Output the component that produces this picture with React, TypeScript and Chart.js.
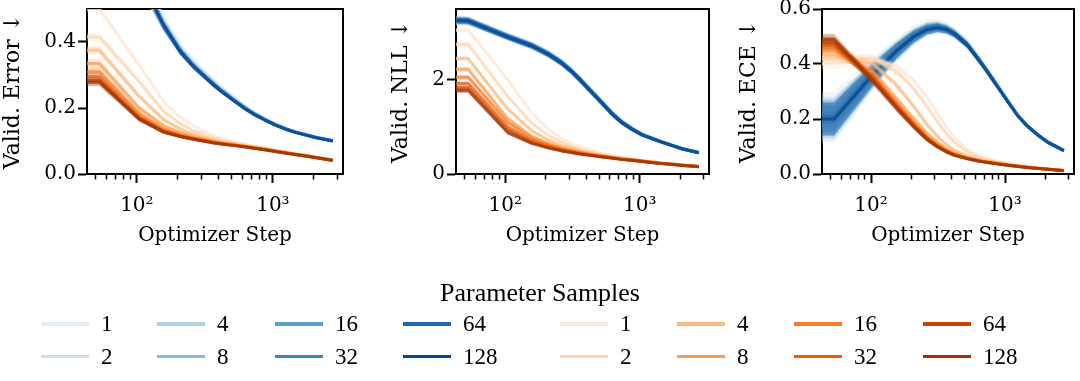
import React, { useEffect, useRef } from 'react';
import { Chart, registerables } from 'chart.js';

Chart.register(...registerables);

// ---------------- data ----------------
const STEPS = [43, 53, 104, 157, 209, 261, 313, 365, 418, 522, 626, 731, 887, 1044, 1253, 1462, 1775, 2088, 2750];
const SAMPLE_LABELS = ['1', '2', '4', '8', '16', '32', '64', '128'];
const X_MIN = 43;
const X_MAX = 3275;
const X_MAJOR_TICKS = [100, 1000];
const X_MAJOR_LABELS = ['10²', '10³'];
const X_MINOR_TICKS = [50, 60, 70, 80, 90, 200, 300, 400, 500, 600, 700, 800, 900, 2000, 3000];

// Validation error
const ERR_BLUE_1 = [0.93, 0.93, 0.63, 0.475, 0.392, 0.344, 0.311, 0.285, 0.263, 0.231, 0.206, 0.187, 0.168, 0.153, 0.139, 0.129, 0.12, 0.112, 0.103];
const ERR_BLUE_2 = [0.87, 0.87, 0.575, 0.44, 0.372, 0.333, 0.305, 0.28, 0.259, 0.228, 0.204, 0.185, 0.166, 0.151, 0.138, 0.128, 0.119, 0.112, 0.102];
const ERR_BLUE_4 = [0.92, 0.92, 0.62, 0.465, 0.382, 0.335, 0.304, 0.278, 0.257, 0.226, 0.202, 0.184, 0.165, 0.151, 0.137, 0.128, 0.119, 0.111, 0.102];
const ERR_BLUE_8 = [0.88, 0.88, 0.585, 0.442, 0.368, 0.327, 0.299, 0.275, 0.255, 0.225, 0.201, 0.183, 0.164, 0.15, 0.137, 0.127, 0.118, 0.111, 0.101];
const ERR_BLUE_16 = [0.91, 0.91, 0.61, 0.458, 0.376, 0.33, 0.299, 0.274, 0.253, 0.223, 0.199, 0.182, 0.163, 0.149, 0.136, 0.127, 0.118, 0.111, 0.101];
const ERR_BLUE_32 = [0.89, 0.89, 0.595, 0.448, 0.37, 0.326, 0.297, 0.272, 0.252, 0.222, 0.199, 0.181, 0.163, 0.149, 0.136, 0.127, 0.118, 0.11, 0.101];
const ERR_BLUE_64 = [0.9, 0.9, 0.605, 0.452, 0.372, 0.326, 0.296, 0.271, 0.251, 0.221, 0.198, 0.18, 0.162, 0.148, 0.135, 0.126, 0.117, 0.11, 0.1];
const ERR_BLUE_128 = [0.9, 0.9, 0.6, 0.45, 0.37, 0.325, 0.295, 0.27, 0.25, 0.22, 0.197, 0.18, 0.162, 0.148, 0.135, 0.126, 0.117, 0.11, 0.1];
const ERR_BLUE_BAND = [0.02, 0.02, 0.014, 0.011, 0.01, 0.009, 0.008, 0.008, 0.007, 0.006, 0.006, 0.006, 0.005, 0.005, 0.005, 0.004, 0.004, 0.004, 0.004];

const ERR_ORANGE_1 = [0.5, 0.5, 0.33, 0.22, 0.172, 0.145, 0.128, 0.117, 0.108, 0.098, 0.091, 0.085, 0.078, 0.072, 0.067, 0.062, 0.056, 0.051, 0.044];
const ERR_ORANGE_2 = [0.415, 0.415, 0.28, 0.19, 0.152, 0.131, 0.119, 0.11, 0.103, 0.094, 0.088, 0.083, 0.077, 0.071, 0.066, 0.061, 0.056, 0.051, 0.043];
const ERR_ORANGE_4 = [0.375, 0.375, 0.235, 0.165, 0.136, 0.12, 0.111, 0.104, 0.098, 0.091, 0.086, 0.081, 0.076, 0.07, 0.065, 0.061, 0.055, 0.05, 0.043];
const ERR_ORANGE_8 = [0.335, 0.335, 0.2, 0.146, 0.125, 0.113, 0.106, 0.1, 0.095, 0.089, 0.084, 0.08, 0.075, 0.07, 0.065, 0.06, 0.055, 0.05, 0.042];
const ERR_ORANGE_16 = [0.31, 0.31, 0.183, 0.136, 0.119, 0.109, 0.103, 0.097, 0.093, 0.088, 0.083, 0.079, 0.074, 0.069, 0.064, 0.06, 0.055, 0.05, 0.042];
const ERR_ORANGE_32 = [0.295, 0.295, 0.173, 0.131, 0.116, 0.107, 0.101, 0.096, 0.092, 0.087, 0.083, 0.079, 0.074, 0.069, 0.064, 0.059, 0.054, 0.049, 0.042];
const ERR_ORANGE_64 = [0.283, 0.283, 0.168, 0.128, 0.114, 0.106, 0.1, 0.095, 0.091, 0.086, 0.082, 0.078, 0.073, 0.068, 0.063, 0.059, 0.054, 0.049, 0.041];
const ERR_ORANGE_128 = [0.278, 0.278, 0.166, 0.127, 0.113, 0.105, 0.099, 0.094, 0.091, 0.086, 0.082, 0.078, 0.073, 0.068, 0.063, 0.059, 0.054, 0.049, 0.041];
const ERR_ORANGE_BAND = [0.012, 0.012, 0.008, 0.006, 0.005, 0.005, 0.004, 0.004, 0.004, 0.003, 0.003, 0.003, 0.003, 0.003, 0.003, 0.003, 0.003, 0.003, 0.003];

// Validation NLL
const NLL_BLUE_1 = [3.22, 3.21, 2.95, 2.77, 2.59, 2.41, 2.22, 2.03, 1.85, 1.56, 1.31, 1.14, 0.97, 0.85, 0.765, 0.69, 0.61, 0.545, 0.46];
const NLL_BLUE_2 = [3.29, 3.28, 2.94, 2.75, 2.57, 2.39, 2.2, 2.01, 1.83, 1.54, 1.3, 1.13, 0.96, 0.845, 0.76, 0.685, 0.605, 0.54, 0.46];
const NLL_BLUE_4 = [3.23, 3.22, 2.89, 2.7, 2.52, 2.34, 2.15, 1.96, 1.78, 1.49, 1.25, 1.09, 0.93, 0.82, 0.74, 0.67, 0.59, 0.525, 0.45];
const NLL_BLUE_8 = [3.28, 3.27, 2.93, 2.74, 2.56, 2.38, 2.19, 2.0, 1.82, 1.53, 1.29, 1.12, 0.955, 0.84, 0.755, 0.68, 0.6, 0.535, 0.455];
const NLL_BLUE_16 = [3.24, 3.23, 2.9, 2.71, 2.53, 2.35, 2.16, 1.97, 1.79, 1.5, 1.26, 1.09, 0.935, 0.825, 0.74, 0.67, 0.59, 0.525, 0.45];
const NLL_BLUE_32 = [3.27, 3.26, 2.92, 2.73, 2.55, 2.37, 2.18, 1.99, 1.81, 1.52, 1.28, 1.11, 0.95, 0.835, 0.75, 0.68, 0.6, 0.535, 0.455];
const NLL_BLUE_64 = [3.25, 3.24, 2.91, 2.72, 2.54, 2.36, 2.17, 1.98, 1.8, 1.51, 1.27, 1.1, 0.94, 0.83, 0.745, 0.675, 0.595, 0.53, 0.45];
const NLL_BLUE_128 = [3.26, 3.25, 2.91, 2.72, 2.54, 2.36, 2.17, 1.98, 1.8, 1.51, 1.27, 1.1, 0.94, 0.83, 0.745, 0.675, 0.595, 0.53, 0.45];
const NLL_BLUE_BAND = [0.07, 0.07, 0.065, 0.065, 0.065, 0.065, 0.065, 0.065, 0.06, 0.06, 0.055, 0.05, 0.045, 0.04, 0.035, 0.035, 0.03, 0.03, 0.03];

const NLL_ORANGE_1 = [3.05, 3.05, 2.0, 1.3, 0.95, 0.76, 0.65, 0.575, 0.52, 0.445, 0.395, 0.36, 0.32, 0.29, 0.265, 0.24, 0.215, 0.195, 0.165];
const NLL_ORANGE_2 = [2.75, 2.75, 1.65, 1.08, 0.82, 0.68, 0.59, 0.53, 0.485, 0.42, 0.375, 0.345, 0.31, 0.285, 0.26, 0.235, 0.21, 0.19, 0.165];
const NLL_ORANGE_4 = [2.45, 2.45, 1.38, 0.92, 0.72, 0.61, 0.545, 0.49, 0.455, 0.4, 0.36, 0.335, 0.305, 0.28, 0.255, 0.23, 0.21, 0.19, 0.16];
const NLL_ORANGE_8 = [2.22, 2.22, 1.18, 0.8, 0.65, 0.56, 0.51, 0.465, 0.43, 0.385, 0.35, 0.325, 0.3, 0.275, 0.25, 0.23, 0.205, 0.185, 0.16];
const NLL_ORANGE_16 = [2.05, 2.05, 1.1, 0.76, 0.62, 0.54, 0.49, 0.45, 0.42, 0.375, 0.345, 0.32, 0.295, 0.27, 0.245, 0.225, 0.205, 0.185, 0.16];
const NLL_ORANGE_32 = [1.92, 1.92, 1.0, 0.71, 0.59, 0.52, 0.47, 0.435, 0.41, 0.37, 0.34, 0.315, 0.29, 0.27, 0.245, 0.225, 0.2, 0.185, 0.16];
const NLL_ORANGE_64 = [1.83, 1.83, 0.93, 0.67, 0.565, 0.5, 0.46, 0.425, 0.405, 0.365, 0.34, 0.315, 0.29, 0.265, 0.24, 0.22, 0.2, 0.18, 0.155];
const NLL_ORANGE_128 = [1.77, 1.77, 0.88, 0.65, 0.55, 0.49, 0.45, 0.42, 0.4, 0.36, 0.335, 0.31, 0.285, 0.265, 0.24, 0.22, 0.2, 0.18, 0.155];
const NLL_ORANGE_BAND = [0.05, 0.05, 0.04, 0.03, 0.025, 0.022, 0.02, 0.02, 0.02, 0.02, 0.02, 0.02, 0.02, 0.02, 0.02, 0.02, 0.02, 0.02, 0.02];

// Validation ECE
const ECE_BLUE_1 = [0.17, 0.17, 0.34, 0.435, 0.49, 0.52, 0.53, 0.524, 0.51, 0.47, 0.42, 0.375, 0.316, 0.266, 0.212, 0.177, 0.142, 0.117, 0.087];
const ECE_BLUE_2 = [0.24, 0.24, 0.385, 0.47, 0.52, 0.545, 0.548, 0.54, 0.522, 0.48, 0.43, 0.383, 0.323, 0.27, 0.215, 0.179, 0.143, 0.118, 0.087];
const ECE_BLUE_4 = [0.18, 0.18, 0.35, 0.44, 0.49, 0.518, 0.527, 0.52, 0.506, 0.466, 0.417, 0.372, 0.313, 0.263, 0.209, 0.174, 0.14, 0.115, 0.085];
const ECE_BLUE_8 = [0.22, 0.22, 0.375, 0.46, 0.51, 0.535, 0.54, 0.532, 0.516, 0.475, 0.425, 0.38, 0.32, 0.268, 0.213, 0.177, 0.142, 0.117, 0.086];
const ECE_BLUE_16 = [0.19, 0.19, 0.355, 0.445, 0.495, 0.522, 0.53, 0.523, 0.508, 0.468, 0.418, 0.373, 0.314, 0.264, 0.21, 0.175, 0.14, 0.115, 0.085];
const ECE_BLUE_32 = [0.21, 0.21, 0.37, 0.455, 0.505, 0.53, 0.536, 0.528, 0.513, 0.472, 0.422, 0.377, 0.317, 0.266, 0.211, 0.176, 0.141, 0.116, 0.086];
const ECE_BLUE_64 = [0.2, 0.2, 0.36, 0.45, 0.5, 0.525, 0.532, 0.525, 0.51, 0.47, 0.42, 0.375, 0.315, 0.265, 0.21, 0.175, 0.14, 0.115, 0.085];
const ECE_BLUE_128 = [0.2, 0.2, 0.365, 0.45, 0.5, 0.525, 0.532, 0.525, 0.51, 0.47, 0.42, 0.375, 0.315, 0.265, 0.21, 0.175, 0.14, 0.115, 0.085];
const ECE_BLUE_BAND = [0.06, 0.06, 0.04, 0.028, 0.022, 0.018, 0.016, 0.014, 0.013, 0.012, 0.011, 0.01, 0.009, 0.008, 0.007, 0.007, 0.006, 0.006, 0.005];

const ECE_ORANGE_1 = [0.4, 0.4, 0.42, 0.39, 0.34, 0.28, 0.22, 0.17, 0.132, 0.09, 0.069, 0.057, 0.046, 0.04, 0.033, 0.028, 0.023, 0.019, 0.015];
const ECE_ORANGE_2 = [0.42, 0.42, 0.42, 0.37, 0.31, 0.245, 0.19, 0.146, 0.115, 0.08, 0.063, 0.053, 0.044, 0.038, 0.031, 0.027, 0.022, 0.019, 0.014];
const ECE_ORANGE_4 = [0.43, 0.43, 0.4, 0.32, 0.245, 0.18, 0.138, 0.107, 0.087, 0.066, 0.055, 0.048, 0.041, 0.035, 0.029, 0.026, 0.021, 0.018, 0.014];
const ECE_ORANGE_8 = [0.45, 0.45, 0.37, 0.27, 0.2, 0.148, 0.115, 0.092, 0.077, 0.06, 0.051, 0.045, 0.038, 0.033, 0.028, 0.025, 0.021, 0.017, 0.013];
const ECE_ORANGE_16 = [0.46, 0.46, 0.355, 0.255, 0.185, 0.136, 0.106, 0.086, 0.072, 0.058, 0.049, 0.044, 0.037, 0.033, 0.028, 0.024, 0.02, 0.017, 0.013];
const ECE_ORANGE_32 = [0.47, 0.47, 0.348, 0.248, 0.18, 0.132, 0.103, 0.084, 0.071, 0.057, 0.048, 0.043, 0.037, 0.033, 0.028, 0.024, 0.02, 0.017, 0.012];
const ECE_ORANGE_64 = [0.48, 0.48, 0.342, 0.242, 0.175, 0.128, 0.1, 0.082, 0.069, 0.056, 0.048, 0.043, 0.036, 0.032, 0.027, 0.024, 0.02, 0.017, 0.012];
const ECE_ORANGE_128 = [0.49, 0.49, 0.335, 0.235, 0.17, 0.125, 0.098, 0.08, 0.068, 0.055, 0.047, 0.042, 0.036, 0.032, 0.027, 0.024, 0.02, 0.017, 0.012];
const ECE_ORANGE_BAND = [0.02, 0.02, 0.015, 0.012, 0.01, 0.008, 0.007, 0.006, 0.005, 0.004, 0.004, 0.003, 0.003, 0.003, 0.003, 0.002, 0.002, 0.002, 0.002];

// ---------------- styles ----------------
const BLUE_COLORS = ['#e3eef9', '#cde0f1', '#aed1e6', '#84bcdb', '#58a1cf', '#3685bf', '#1a68ae', '#084a92'];
const ORANGE_COLORS = ['#fee8d3', '#fdd6ae', '#fdbb80', '#fd9c51', '#f87c2a', '#e85d0c', '#c94302', '#9e3303'];
const TICK_FONT = { family: '"DejaVu Serif", serif', size: 20 };
const X_TITLE_FONT = { family: '"DejaVu Serif", serif', size: 20 };
const Y_TITLE_FONT = { family: '"DejaVu Serif", serif', size: 22 };
const LEGEND_FONT = '"Liberation Serif", "Times New Roman", serif';
const CANVAS_H = 250;
const CHART_TOP = 9;
const CHART_BOTTOM = 174;

type PanelCfg = {
  left: number;
  width: number;
  yAxisWidth: number;
  padRight: number;
  yTitle: string;
  yMax: number;
  yTicks: number[];
  decimals: number;
  blue: number[][];
  orange: number[][];
  blueBand: number[];
  orangeBand: number[];
};

const PANELS: PanelCfg[] = [
  {
    left: 0, width: 360, yAxisWidth: 87, padRight: 17,
    yTitle: 'Valid. Error ↓', yMax: 0.5, yTicks: [0, 0.2, 0.4], decimals: 1,
    blue: [ERR_BLUE_1, ERR_BLUE_2, ERR_BLUE_4, ERR_BLUE_8, ERR_BLUE_16, ERR_BLUE_32, ERR_BLUE_64, ERR_BLUE_128],
    orange: [ERR_ORANGE_1, ERR_ORANGE_2, ERR_ORANGE_4, ERR_ORANGE_8, ERR_ORANGE_16, ERR_ORANGE_32, ERR_ORANGE_64, ERR_ORANGE_128],
    blueBand: ERR_BLUE_BAND, orangeBand: ERR_ORANGE_BAND,
  },
  {
    left: 388, width: 337, yAxisWidth: 68, padRight: 16,
    yTitle: 'Valid. NLL ↓', yMax: 3.5, yTicks: [0, 2], decimals: 0,
    blue: [NLL_BLUE_1, NLL_BLUE_2, NLL_BLUE_4, NLL_BLUE_8, NLL_BLUE_16, NLL_BLUE_32, NLL_BLUE_64, NLL_BLUE_128],
    orange: [NLL_ORANGE_1, NLL_ORANGE_2, NLL_ORANGE_4, NLL_ORANGE_8, NLL_ORANGE_16, NLL_ORANGE_32, NLL_ORANGE_64, NLL_ORANGE_128],
    blueBand: NLL_BLUE_BAND, orangeBand: NLL_ORANGE_BAND,
  },
  {
    left: 736, width: 344, yAxisWidth: 86, padRight: 6,
    yTitle: 'Valid. ECE ↓', yMax: 0.6, yTicks: [0, 0.2, 0.4, 0.6], decimals: 1,
    blue: [ECE_BLUE_1, ECE_BLUE_2, ECE_BLUE_4, ECE_BLUE_8, ECE_BLUE_16, ECE_BLUE_32, ECE_BLUE_64, ECE_BLUE_128],
    orange: [ECE_ORANGE_1, ECE_ORANGE_2, ECE_ORANGE_4, ECE_ORANGE_8, ECE_ORANGE_16, ECE_ORANGE_32, ECE_ORANGE_64, ECE_ORANGE_128],
    blueBand: ECE_BLUE_BAND, orangeBand: ECE_ORANGE_BAND,
  },
];

function hexToRgba(hex: string, a: number) {
  const n = parseInt(hex.slice(1), 16);
  return `rgba(${(n >> 16) & 255},${(n >> 8) & 255},${n & 255},${a})`;
}

function buildDatasets(cfg: PanelCfg) {
  const groups = [
    { series: cfg.blue, band: cfg.blueBand, colors: BLUE_COLORS },
    { series: cfg.orange, band: cfg.orangeBand, colors: ORANGE_COLORS },
  ];
  const list: any[] = [];
  groups.forEach((g) => {
    g.series.forEach((vals, si) => {
      const color = g.colors[si];
      const base = { xAxisID: 'x', yAxisID: 'y', pointRadius: 0, tension: 0, clip: 0 };
      list.push({
        ...base,
        data: STEPS.map((s, i) => ({ x: s, y: vals[i] + g.band[i] })),
        borderWidth: 0,
        borderColor: 'rgba(0,0,0,0)',
        fill: false,
      });
      list.push({
        ...base,
        data: STEPS.map((s, i) => ({ x: s, y: vals[i] - g.band[i] })),
        borderWidth: 0,
        borderColor: 'rgba(0,0,0,0)',
        backgroundColor: hexToRgba(color, 0.3),
        fill: '-1',
      });
      list.push({
        ...base,
        data: STEPS.map((s, i) => ({ x: s, y: vals[i] })),
        borderWidth: 3,
        borderColor: hexToRgba(color, 0.72),
        borderJoinStyle: 'round',
        fill: false,
      });
    });
  });
  const n = list.length;
  list.forEach((d, i) => { d.order = n - i; });
  return list;
}

const zeroPad = (s: any) => {
  s.paddingLeft = 0; s.paddingRight = 0; s.paddingTop = 0; s.paddingBottom = 0;
};

function Panel({ cfg }: { cfg: PanelCfg }) {
  const ref = useRef<HTMLCanvasElement>(null);
  useEffect(() => {
    const chart = new Chart(ref.current as HTMLCanvasElement, {
      type: 'line',
      data: { datasets: buildDatasets(cfg) },
      options: {
        animation: false,
        responsive: false,
        maintainAspectRatio: false,
        events: [],
        layout: { padding: { left: 0, top: CHART_TOP, right: cfg.padRight, bottom: 0 } },
        plugins: { legend: { display: false }, tooltip: { enabled: false } },
        scales: {
          xMinor: {
            type: 'logarithmic', position: 'bottom', weight: 0, min: X_MIN, max: X_MAX, z: 1,
            afterBuildTicks: (s: any) => { s.ticks = X_MINOR_TICKS.map((v) => ({ value: v })); },
            ticks: { display: false },
            grid: { display: true, drawOnChartArea: false, drawTicks: true, tickLength: 5.5, tickWidth: 1.5, tickColor: '#000' },
            border: { display: false },
            afterFit: (s: any) => { s.height = 0; zeroPad(s); },
          },
          x: {
            type: 'logarithmic', position: 'bottom', weight: 1, min: X_MIN, max: X_MAX, z: 1,
            afterBuildTicks: (s: any) => { s.ticks = X_MAJOR_TICKS.map((v) => ({ value: v })); },
            ticks: {
              autoSkip: false, maxRotation: 0, minRotation: 0, padding: 11, color: '#000', font: TICK_FONT,
              callback: (_v: any, i: number) => X_MAJOR_LABELS[i],
            },
            grid: { display: true, drawOnChartArea: false, drawTicks: true, tickLength: 9, tickWidth: 2, tickColor: '#000' },
            border: { display: true, color: '#000', width: 2 },
            title: { display: true, text: 'Optimizer Step', color: '#000', font: X_TITLE_FONT, padding: { top: 0, bottom: 2 } },
            afterFit: (s: any) => { s.height = CANVAS_H - CHART_BOTTOM; zeroPad(s); },
          },
          xTop: {
            type: 'logarithmic', position: 'top', min: X_MIN, max: X_MAX, z: 1,
            ticks: { display: false },
            grid: { display: false },
            border: { display: true, color: '#000', width: 2 },
            afterFit: (s: any) => { s.height = 0; zeroPad(s); },
          },
          y: {
            type: 'linear', position: 'left', min: 0, max: cfg.yMax, z: 1,
            afterBuildTicks: (s: any) => { s.ticks = cfg.yTicks.map((v) => ({ value: v })); },
            ticks: {
              padding: 2, color: '#000', font: TICK_FONT,
              callback: (v: any) => Number(v).toFixed(cfg.decimals),
            },
            grid: { display: true, drawOnChartArea: false, drawTicks: true, tickLength: 9, tickWidth: 2, tickColor: '#000' },
            border: { display: true, color: '#000', width: 2 },
            title: { display: true, text: cfg.yTitle, color: '#000', font: Y_TITLE_FONT, padding: { top: 0, bottom: 0 } },
            afterFit: (s: any) => { s.width = cfg.yAxisWidth; zeroPad(s); },
          },
          yRight: {
            type: 'linear', position: 'right', min: 0, max: cfg.yMax, z: 1,
            ticks: { display: false },
            grid: { display: false },
            border: { display: true, color: '#000', width: 2 },
            afterFit: (s: any) => { s.width = 0; zeroPad(s); },
          },
        },
      } as any,
    });
    return () => chart.destroy();
  }, [cfg]);
  return (
    <div style={{ position: 'absolute', left: cfg.left, top: 0, width: cfg.width, height: CANVAS_H }}>
      <canvas ref={ref} width={cfg.width} height={CANVAS_H} style={{ display: 'block', width: cfg.width, height: CANVAS_H }} />
    </div>
  );
}

// legend layout
const LEGEND_COL_X = [41, 157, 275, 403, 560, 677, 794, 923];
const LEGEND_ROW_Y = [324, 356.5];

function Legend() {
  const items: { label: string; color: string; col: number; row: number }[] = [];
  SAMPLE_LABELS.forEach((lab, i) => {
    items.push({ label: lab, color: BLUE_COLORS[i], col: Math.floor(i / 2), row: i % 2 });
  });
  SAMPLE_LABELS.forEach((lab, i) => {
    items.push({ label: lab, color: ORANGE_COLORS[i], col: 4 + Math.floor(i / 2), row: i % 2 });
  });
  return (
    <div style={{ position: 'absolute', left: 0, top: 0, width: 1080, height: 381, fontFamily: LEGEND_FONT, fontSize: 23, color: '#000' }}>
      <div style={{ position: 'absolute', left: 0, width: 1080, top: 279, textAlign: 'center', lineHeight: '28px', fontSize: 26 }}>
        Parameter Samples
      </div>
      {items.map((it, k) => (
        <div key={k} style={{ position: 'absolute', left: LEGEND_COL_X[it.col], top: LEGEND_ROW_Y[it.row] - 15, height: 30, display: 'flex', alignItems: 'center' }}>
          <span style={{ display: 'inline-block', width: 48, height: 3.3, background: it.color }} />
          <span style={{ marginLeft: 12, lineHeight: '30px', whiteSpace: 'nowrap' }}>{it.label}</span>
        </div>
      ))}
    </div>
  );
}

export default function App() {
  return (
    <div style={{ position: 'absolute', left: 0, top: 0, width: 1080, height: 381, background: '#fff', overflow: 'hidden' }}>
      {PANELS.map((p, i) => (
        <Panel key={i} cfg={p} />
      ))}
      <Legend />
    </div>
  );
}
